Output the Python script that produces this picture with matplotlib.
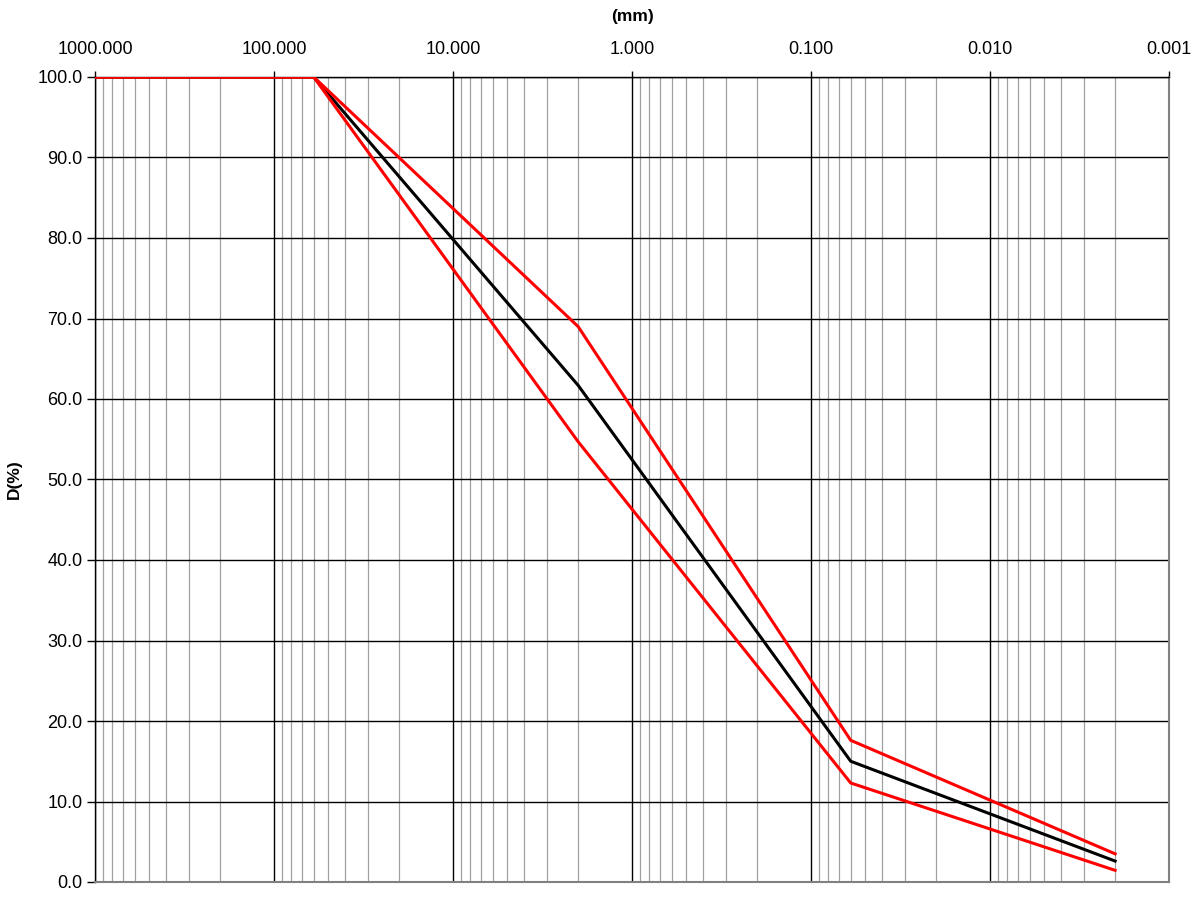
import numpy as np
import matplotlib.pyplot as plt
from matplotlib.ticker import FixedLocator, FuncFormatter, LogLocator, NullFormatter

# grain size (mm) and passing percentages
sizes = [1000, 60, 2, 0.06, 0.002]
upper = [100.0, 100.0, 69.0, 17.6, 3.5]
middle = [100.0, 100.0, 61.7, 15.0, 2.6]
lower = [100.0, 100.0, 54.7, 12.3, 1.45]

major_sizes = [1000, 100, 10, 1, 0.1, 0.01, 0.001]
y_ticks = np.arange(0, 101, 10)

plt.rcParams['font.family'] = ['Liberation Sans', 'DejaVu Sans']

fig = plt.figure(figsize=(11.97, 8.98), dpi=100)
ax = fig.add_axes([95 / 1197, 1 - 882 / 898, (1169 - 95) / 1197, (882 - 77) / 898])

ax.set_xscale('log')
ax.set_xlim(1000, 0.001)
ax.set_ylim(0, 100)

ax.xaxis.set_major_locator(FixedLocator(major_sizes))
ax.xaxis.set_minor_locator(LogLocator(base=10, subs=np.arange(2, 10), numticks=20))
ax.xaxis.set_major_formatter(FuncFormatter(lambda v, p: '%.3f' % v))
ax.xaxis.set_minor_formatter(NullFormatter())
ax.xaxis.tick_top()
ax.xaxis.set_label_position('top')
ax.tick_params(axis='x', which='major', length=4, width=1, labelsize=13, pad=10, top=True, bottom=False)
ax.tick_params(axis='x', which='minor', length=0)

ax.set_yticks(y_ticks)
ax.yaxis.set_major_formatter(FuncFormatter(lambda v, p: '%.1f' % v))
ax.tick_params(axis='y', which='major', length=6, width=1, labelsize=13, pad=3)

ax.grid(True, axis='x', which='minor', color='#a0a0a0', lw=0.9)
ax.grid(True, axis='x', which='major', color='black', lw=1)
ax.grid(True, axis='y', which='major', color='black', lw=1)
ax.set_axisbelow(True)

for s in ['left', 'top']:
    ax.spines[s].set_color('black')
    ax.spines[s].set_linewidth(1)
for s in ['right', 'bottom']:
    ax.spines[s].set_color('#808080')
    ax.spines[s].set_linewidth(1.5)

ax.plot(sizes, middle, color='black', lw=2.2, zorder=3)
ax.plot(sizes, upper, color='red', lw=2.2, zorder=4)
ax.plot(sizes, lower, color='red', lw=2.2, zorder=4)

ax.set_xlabel('(mm)', fontsize=12.5, fontweight='bold', labelpad=14)
ax.set_ylabel('D(%)', fontsize=12.5, fontweight='bold', labelpad=11)

fig.savefig('out.png', dpi=100)
